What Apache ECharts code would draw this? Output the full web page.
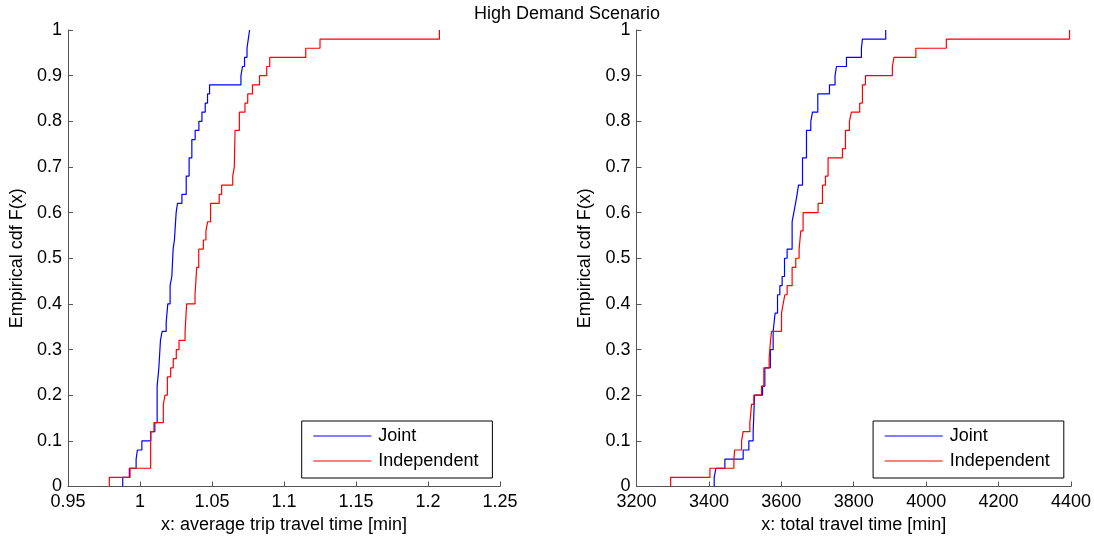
<!DOCTYPE html>
<html>
<head>
<meta charset="utf-8">
<script src="https://cdn.jsdelivr.net/npm/echarts@6/dist/echarts.min.js"></script>
<style>
  html, body { margin: 0; padding: 0; background: #fff; }
  #chart { width: 1094px; height: 542px; }
</style>
</head>
<body>
<div id="chart"></div>
<script>
// empirical cdf steps: x where the step happens, F level after it
const avgJointX = [0.9880, 0.9926, 0.9973, 0.9982, 1.0013, 1.0075, 1.0103, 1.0119, 1.0131, 1.0142, 1.0154, 1.0182, 1.0193, 1.0209, 1.0221, 1.0230, 1.0239, 1.0251, 1.0260, 1.0291, 1.0321, 1.0341, 1.0360, 1.0383, 1.0409, 1.0430, 1.0453, 1.0469, 1.0483, 1.0701, 1.0712, 1.0726, 1.0743, 1.0752, 1.0761]
const avgJointF = [0.02, 0.04, 0.06, 0.08, 0.10, 0.12, 0.14, 0.22, 0.26, 0.32, 0.34, 0.36, 0.40, 0.44, 0.46, 0.52, 0.54, 0.60, 0.62, 0.64, 0.68, 0.72, 0.76, 0.78, 0.80, 0.82, 0.84, 0.86, 0.88, 0.90, 0.92, 0.94, 0.96, 0.98, 1.00]

const avgIndepX = [0.9787, 0.9931, 1.0074, 1.0097, 1.0162, 1.0174, 1.0190, 1.0213, 1.0231, 1.0252, 1.0271, 1.0313, 1.0324, 1.0382, 1.0394, 1.0408, 1.0440, 1.0458, 1.0470, 1.0490, 1.0550, 1.0567, 1.0644, 1.0655, 1.0660, 1.0690, 1.0729, 1.0748, 1.0781, 1.0830, 1.0880, 1.0901, 1.1151, 1.1250, 1.2079]
const avgIndepF = [0.02, 0.04, 0.12, 0.14, 0.18, 0.20, 0.24, 0.26, 0.28, 0.30, 0.32, 0.34, 0.40, 0.42, 0.48, 0.52, 0.54, 0.56, 0.58, 0.62, 0.64, 0.66, 0.68, 0.70, 0.78, 0.82, 0.84, 0.86, 0.88, 0.90, 0.92, 0.94, 0.96, 0.98, 1.00]

const totJointX = [3414.6, 3419.3, 3444.1, 3494.6, 3510.3, 3522.2, 3526.1, 3548.1, 3554.5, 3569.7, 3577.4, 3582.9, 3589.5, 3595.9, 3602.2, 3608.8, 3616.0, 3629.8, 3634.5, 3639.2, 3643.6, 3647.4, 3658.5, 3669.5, 3681.4, 3686.1, 3700.7, 3733.0, 3748.4, 3752.3, 3779.9, 3821.2, 3824.0, 3888.3]
const totJointF = [0.02, 0.04, 0.06, 0.08, 0.10, 0.12, 0.20, 0.22, 0.26, 0.30, 0.34, 0.38, 0.42, 0.44, 0.46, 0.50, 0.52, 0.58, 0.60, 0.62, 0.64, 0.66, 0.72, 0.78, 0.80, 0.82, 0.86, 0.88, 0.90, 0.92, 0.94, 0.96, 0.98, 1.00]

const totIndepX = [3294.3, 3402.8, 3469.0, 3471.0, 3490.2, 3494.6, 3513.1, 3517.8, 3524.1, 3545.4, 3551.7, 3566.3, 3570.2, 3573.0, 3600.5, 3605.0, 3609.7, 3616.0, 3629.8, 3640.0, 3649.1, 3653.8, 3660.1, 3701.5, 3713.6, 3721.9, 3729.1, 3768.8, 3777.1, 3788.1, 3793.6, 3816.5, 3824.0, 3832.3, 3906.7, 3911.2, 3971.6, 4055.7, 4396.0]
const totIndepF = [0.02, 0.04, 0.06, 0.08, 0.10, 0.12, 0.14, 0.18, 0.20, 0.22, 0.26, 0.28, 0.32, 0.34, 0.38, 0.40, 0.42, 0.44, 0.48, 0.50, 0.52, 0.56, 0.60, 0.62, 0.66, 0.68, 0.72, 0.74, 0.78, 0.80, 0.82, 0.84, 0.88, 0.90, 0.92, 0.94, 0.96, 0.98, 1.00]

const seriesNames = ['Joint', 'Independent']
const yTicks = { min: 0, max: 1, interval: 0.1 }

const chart = echarts.init(document.getElementById('chart'))

// cdf starts at 0 on the first sample, then steps up
function steps(xs, fs) {
  const pts = [[xs[0], 0]]
  xs.forEach((x, i) => pts.push([x, fs[i]]))
  return pts
}

const font = 'Liberation Sans'
const axisCol = '#555'

function xAx(idx, min, max, interval, name) {
  return {
    type: 'value', gridIndex: idx, min: min, max: max, interval: interval,
    name: name, nameLocation: 'middle', nameGap: 27,
    nameTextStyle: { color: '#000', fontSize: 18, fontFamily: font },
    axisLine: { lineStyle: { color: axisCol, width: 1 } },
    axisTick: { inside: true, length: 5, lineStyle: { color: axisCol } },
    axisLabel: { color: '#000', fontSize: 18, fontFamily: font, margin: 7, formatter: v => String(v) },
    splitLine: { show: false }
  }
}
function yAx(idx) {
  return {
    type: 'value', gridIndex: idx, min: yTicks.min, max: yTicks.max, interval: yTicks.interval,
    name: 'Empirical cdf F(x)', nameLocation: 'middle', nameGap: 42,
    nameTextStyle: { color: '#000', fontSize: 18, fontFamily: font },
    axisLine: { show: true, lineStyle: { color: axisCol, width: 1 } },
    axisTick: { show: true, inside: true, length: 5, lineStyle: { color: axisCol } },
    axisLabel: { color: '#000', fontSize: 18, fontFamily: font, margin: 6 },
    splitLine: { show: false }
  }
}
function legend(pos) {
  return Object.assign({
    orient: 'vertical', top: 421, data: seriesNames,
    itemWidth: 58, itemHeight: 18, itemGap: 7,
    padding: [6, 14, 8, 11],
    borderColor: '#000', borderWidth: 1, backgroundColor: '#fff',
    itemStyle: { opacity: 0 },
    lineStyle: { width: 1.2 },
    textStyle: { color: '#000', fontSize: 18, fontFamily: font, padding: [0, 0, 0, 2] }
  }, pos)
}
function line(name, data, color, idx) {
  return {
    name: name, type: 'line', step: 'end', symbol: 'none', data: data,
    xAxisIndex: idx, yAxisIndex: idx,
    lineStyle: { color: color, width: 1.2 }, itemStyle: { color: color }
  }
}

const option = {
  animation: false,
  textStyle: { fontFamily: font },
  title: {
    text: 'High Demand Scenario', left: 469, top: 0,
    textStyle: { color: '#000', fontSize: 18, fontWeight: 'normal', fontFamily: font }
  },
  legend: [legend({ left: 301.7 }), legend({ right: 30.2 })],
  grid: [
    { left: 68, right: 594, top: 30, bottom: 55.5 },
    { left: 636.5, right: 22.5, top: 30, bottom: 55.5 }
  ],
  xAxis: [
    xAx(0, 0.95, 1.25, 0.05, 'x: average trip travel time [min]'),
    xAx(1, 3200, 4400, 200, 'x: total travel time [min]')
  ],
  yAxis: [yAx(0), yAx(1)],
  series: [
    line('Joint', steps(avgJointX, avgJointF), '#0000ff', 0),
    line('Independent', steps(avgIndepX, avgIndepF), '#ff0000', 0),
    line('Joint', steps(totJointX, totJointF), '#0000ff', 1),
    line('Independent', steps(totIndepX, totIndepF), '#ff0000', 1)
  ]
}
chart.setOption(option)
</script>
</body>
</html>
